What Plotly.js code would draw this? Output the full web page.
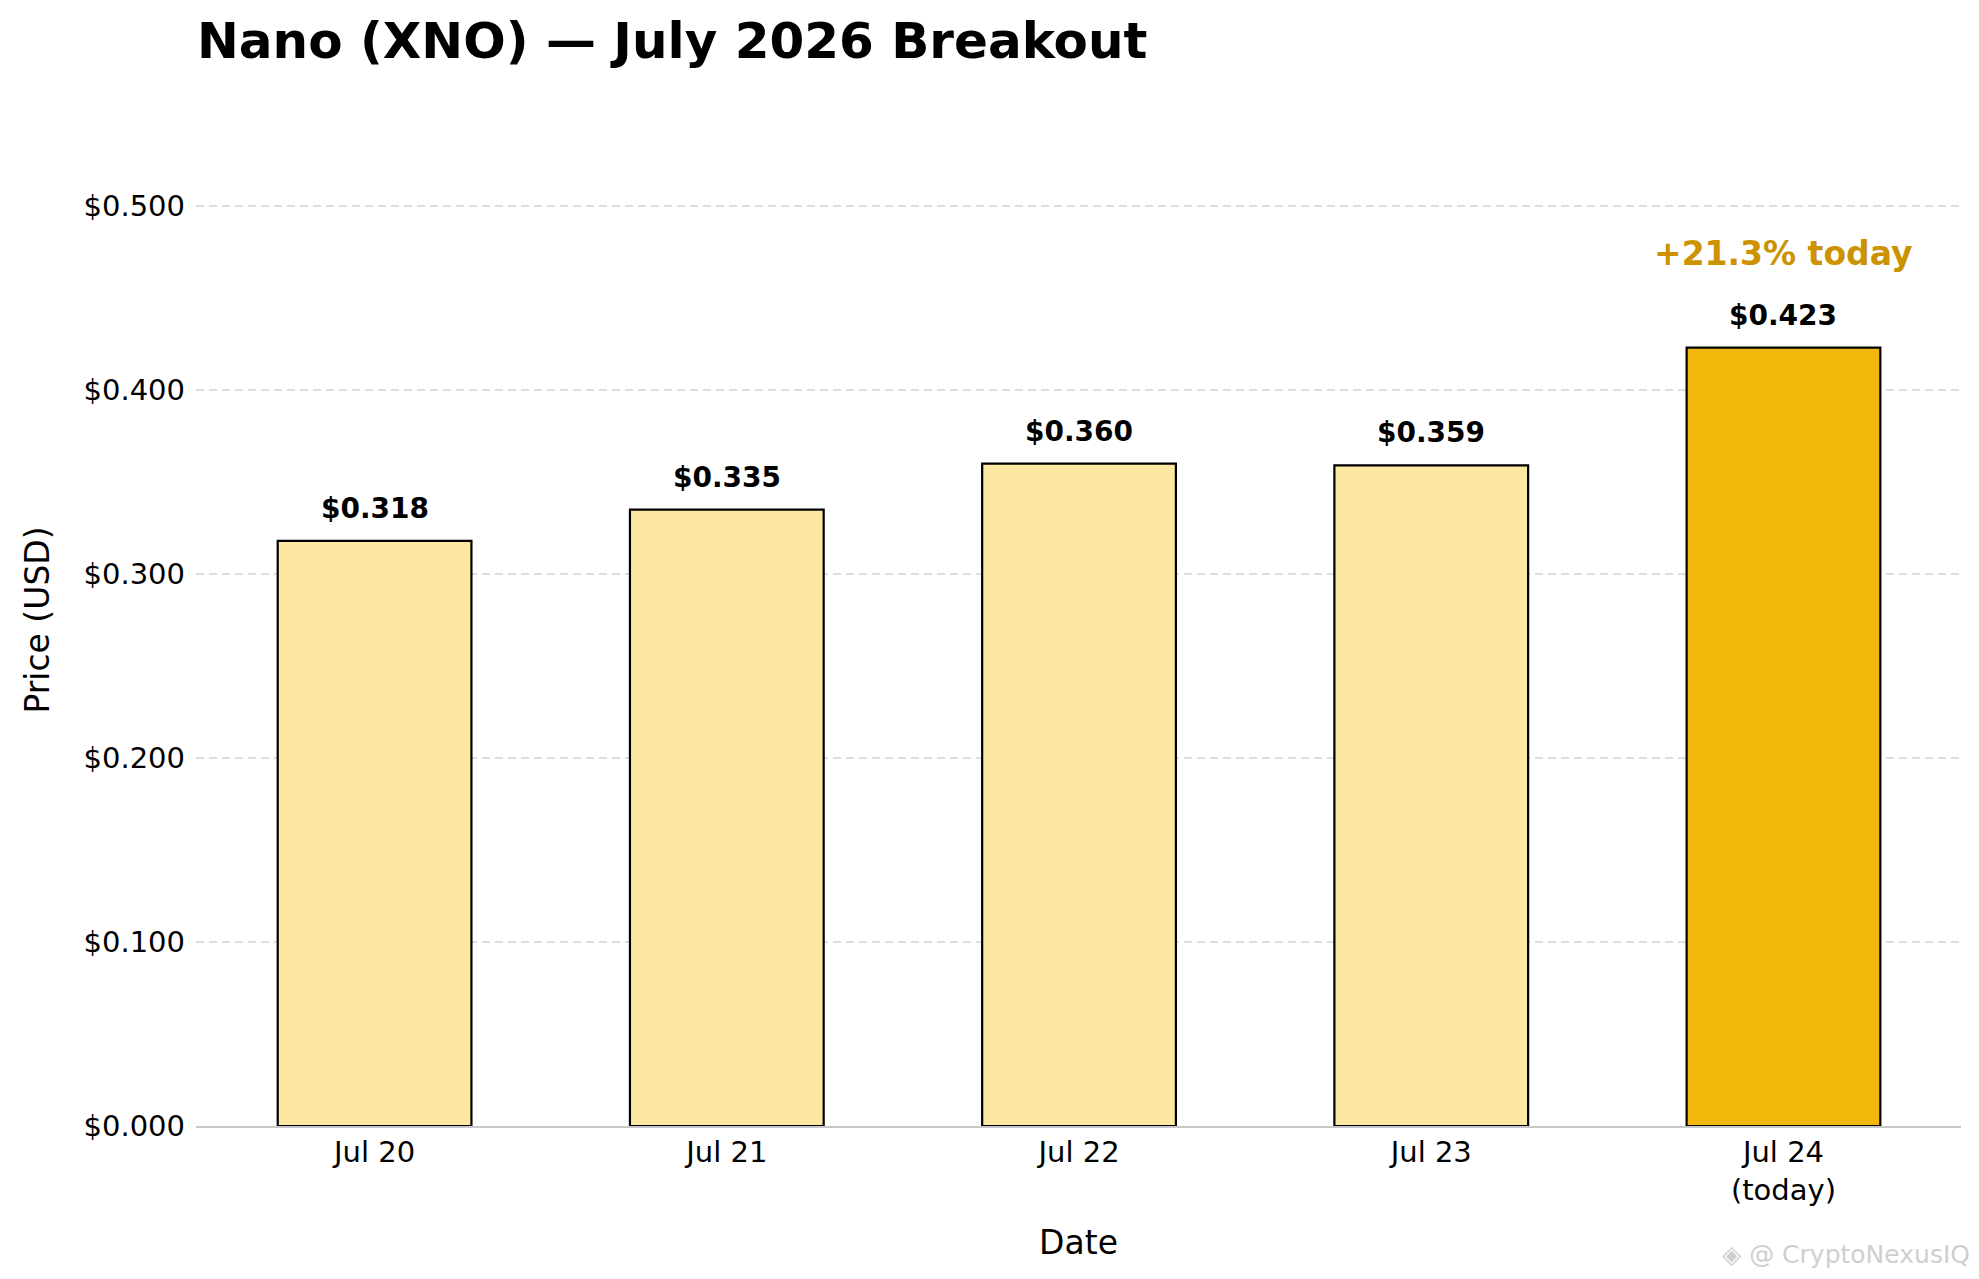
<!DOCTYPE html>
<html>
<head>
<meta charset="utf-8">
<script src="https://cdn.plot.ly/plotly-3.0.1.min.js"></script>
<style>html,body{margin:0;padding:0;background:#fff;}#chart{width:1979px;height:1279px;}</style>
</head>
<body>
<div id="chart"></div>
<script>
const categories = ["Jul 20", "Jul 21", "Jul 22", "Jul 23", "Jul 24<br>(today)"];
const prices = [0.318, 0.335, 0.360, 0.359, 0.423];
const barColors = ["#FCE8A0", "#FCE8A0", "#FCE8A0", "#FCE8A0", "#F0B90B"];
const yTickValues = [0, 0.1, 0.2, 0.3, 0.4, 0.5];
const yTickLabels = ["$0.000", "$0.100", "$0.200", "$0.300", "$0.400", "$0.500"];
const changeLabel = "+21.3% today";
const chartTitle = "Nano (XNO) — July 2026 Breakout";
const watermark = "◈ @ CryptoNexusIQ";

const FONT = "DejaVu Sans, Verdana, sans-serif";

const barLabels = categories.map((c, i) => ({
  x: c, y: prices[i], xref: "x", yref: "y",
  text: "$" + prices[i].toFixed(3),
  showarrow: false, yanchor: "bottom", yshift: 14,
  font: {family: FONT, size: 28, color: "#000000", weight: "bold"}
}));

const last = categories.length - 1;
const annotations = barLabels.concat([
  {
    x: categories[last], y: prices[last], xref: "x", yref: "y",
    text: changeLabel, showarrow: false, yanchor: "bottom", yshift: 73,
    font: {family: FONT, size: 33, color: "#CC9200", weight: "bold"}
  },
  {
    x: 1.006, y: -0.143, xref: "paper", yref: "paper",
    text: watermark, showarrow: false, xanchor: "right", yanchor: "bottom",
    font: {family: FONT, size: 25, color: "#cfcfcf"}
  }
]);

const trace = {
  type: "bar",
  x: categories,
  y: prices,
  width: 0.55,
  marker: {color: barColors, line: {color: "#000000", width: 2.2}},
  hoverinfo: "skip"
};

const layout = {
  width: 1979, height: 1279,
  paper_bgcolor: "#ffffff", plot_bgcolor: "#ffffff",
  margin: {l: 196, r: 18, t: 114, b: 153},
  showlegend: false,
  font: {family: FONT, color: "#000000"},
  title: {
    text: "<b>" + chartTitle + "</b>",
    font: {family: FONT, size: 50, color: "#000000"},
    xref: "container", x: 197 / 1979, xanchor: "left",
    yref: "container", y: 1 - 23 / 1279, yanchor: "top"
  },
  xaxis: {
    type: "category",
    range: [-0.507, 4.504],
    showgrid: false, zeroline: false,
    showline: true, linecolor: "#c8c8c8", linewidth: 1.5,
    ticks: "", tickfont: {family: FONT, size: 29, color: "#000000"},
    title: {text: "Date", font: {family: FONT, size: 33, color: "#000000"}, standoff: 25},
    automargin: false
  },
  yaxis: {
    range: [0, 0.55],
    tickvals: yTickValues,
    ticktext: yTickLabels,
    showgrid: true, gridcolor: "#dddddd", gridwidth: 1.5, griddash: "8px,5px",
    zeroline: false, showline: false, ticks: "",
    ticklabelstandoff: 10,
    tickfont: {family: FONT, size: 29, color: "#000000"},
    title: {text: "Price (USD)", font: {family: FONT, size: 33, color: "#000000"}, standoff: 23},
    automargin: false
  },
  annotations: annotations
};

Plotly.newPlot("chart", [trace], layout, {displayModeBar: false, staticPlot: true});
</script>
</body>
</html>
